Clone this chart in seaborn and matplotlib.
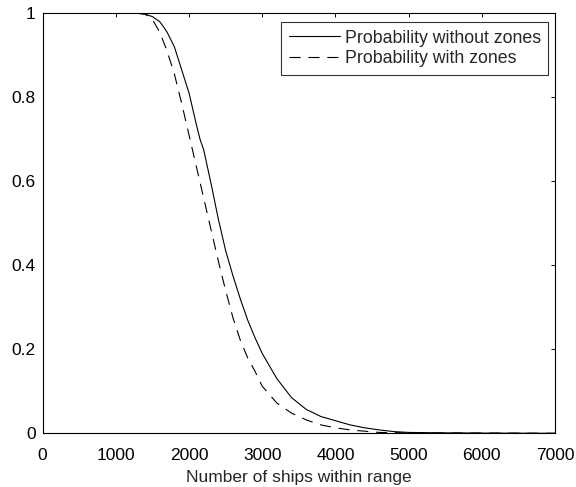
import numpy as np
import pandas as pd
import matplotlib
matplotlib.use("Agg")
import matplotlib.pyplot as plt
import seaborn as sns

# Probability curves versus number of ships within range
ships_without = [0, 1300, 1400, 1500, 1600, 1650, 1700, 1800, 1900, 2000, 2100, 2150, 2200,
                 2300, 2400, 2500, 2600, 2700, 2800, 2900, 3000, 3200, 3400, 3600,
                 3800, 4000, 4200, 4400, 4600, 4800, 5000, 5500, 6000, 7000]
prob_without = [1.0, 1.0, 0.998, 0.992, 0.98, 0.968, 0.955, 0.92, 0.865, 0.81, 0.735, 0.70, 0.675,
                0.595, 0.51, 0.435, 0.375, 0.32, 0.27, 0.228, 0.19, 0.13, 0.085, 0.057,
                0.040, 0.030, 0.020, 0.013, 0.008, 0.004, 0.002, 0.001, 0.0005, 0.0]

ships_with = [0, 1300, 1400, 1500, 1600, 1700, 1800, 1900, 2000, 2100, 2200, 2300,
              2400, 2500, 2600, 2700, 2800, 2900, 3000, 3200, 3400, 3600, 3800,
              4000, 4200, 4400, 4600, 5000, 7000]
prob_with = [1.0, 1.0, 0.998, 0.985, 0.955, 0.91, 0.855, 0.785, 0.71, 0.635, 0.56, 0.485,
             0.41, 0.34, 0.275, 0.222, 0.18, 0.148, 0.112, 0.072, 0.048, 0.032, 0.02,
             0.013, 0.008, 0.005, 0.002, 0.001, 0.0]

labels = ["Probability without zones", "Probability with zones"]
x_ticks = [0, 1000, 2000, 3000, 4000, 5000, 6000, 7000]
y_ticks = [0, 0.2, 0.4, 0.6, 0.8, 1.0]
y_tick_labels = ["0", "0.2", "0.4", "0.6", "0.8", "1"]

df = pd.concat([
    pd.DataFrame({"ships": ships_without, "prob": prob_without, "curve": labels[0]}),
    pd.DataFrame({"ships": ships_with, "prob": prob_with, "curve": labels[1]}),
], ignore_index=True)

sns.set_style("white")
plt.rcParams["font.family"] = ["Liberation Sans", "DejaVu Sans"]
FS = 12.5

fig = plt.figure(figsize=(5.76, 4.87), dpi=100)
ax = fig.add_axes([0.0741, 0.1103, 0.8894, 0.8624])

sns.lineplot(data=df, x="ships", y="prob", hue="curve", style="curve",
             palette=["black", "black"], dashes=[(None, None), (10, 7)],
             linewidth=0.8, ax=ax, legend=True)

ax.set_xlim(0, 7000)
ax.set_ylim(0, 1)
ax.set_xticks(x_ticks)
ax.set_xticklabels([str(t) for t in x_ticks])
ax.set_yticks(y_ticks)
ax.set_yticklabels(y_tick_labels)
ax.set_xlabel("Number of ships within range", fontsize=FS, labelpad=5)
ax.set_ylabel("")
ax.tick_params(direction="in", length=2.9, width=0.7, top=True, right=True,
               labelsize=FS, colors="black")
ax.tick_params(axis="x", pad=10.6)
ax.tick_params(axis="y", pad=5)
for s in ax.spines.values():
    s.set_visible(True)
    s.set_color("black")
    s.set_linewidth(0.8)

leg = ax.legend(loc="upper right", bbox_to_anchor=(0.987, 0.979), borderaxespad=0,
                fontsize=12.8, frameon=True, fancybox=False, edgecolor="black",
                handlelength=2.9, handletextpad=0.25, labelspacing=0.2,
                borderpad=0.42)
leg.get_frame().set_linewidth(0.8)
leg.set_title(None)

fig.savefig("out.png", dpi=100, facecolor="white")
